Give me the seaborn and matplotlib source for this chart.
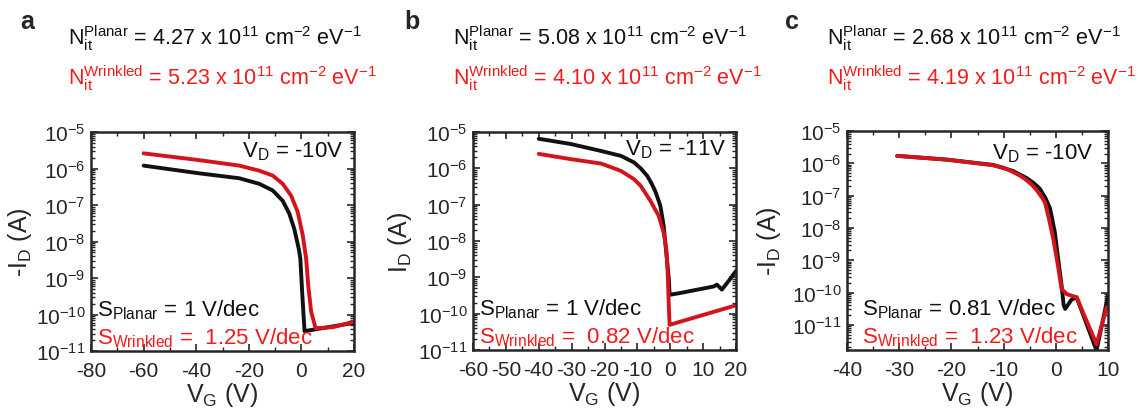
import numpy as np
import pandas as pd
import matplotlib
matplotlib.use("Agg")
import matplotlib.pyplot as plt
import matplotlib.ticker as mticker
import seaborn as sns

# panel a  (V_D = -10 V)
vg_a_planar = [-60, -39, -23.6, -16, -10.9, -7.1, -4.6, -2.7, -1, -0.4, 0.3, 0.8, 1.2, 20]
id_a_planar = [1.2e-6, 7.4e-7, 5.4e-7, 3.8e-7, 2.5e-7, 1.3e-7, 5.8e-8, 2.2e-8,
               6.3e-9, 3.4e-9, 4e-10, 1e-10, 3.5e-11, 5.9e-11]
vg_a_wrinkled = [-60, -39, -23.6, -16, -10.9, -7.1, -3.9, -1.4, 0.5, 1.8, 2.6,
                 3.7, 5.4, 12, 20]
id_a_wrinkled = [2.6e-6, 1.7e-6, 1.2e-6, 8.7e-7, 6.4e-7, 3.8e-7, 1.8e-7, 6.4e-8,
                 1.5e-8, 3.4e-9, 6.3e-10, 1.2e-10, 4.2e-11, 4.5e-11, 6.4e-11]

# panel b  (V_D = -11 V)
vg_b_planar = [-40, -30.4, -21, -15, -11, -9, -7, -5.8, -4.6, -3.8, -3, -2, -1.3,
               -0.8, -0.4, -0.2, 3, 13.2, 14.2, 15.7, 17.7, 20]
id_b_planar = [6.5e-6, 4.7e-6, 3e-6, 2.2e-6, 1.45e-6, 1e-6, 6.2e-7, 4e-7, 2.4e-7,
               1.5e-7, 9.2e-8, 2.6e-8, 5.9e-9, 2e-9, 8e-10, 3.3e-10, 3.7e-10,
               5.6e-10, 6.3e-10, 4.6e-10, 7.8e-10, 1.5e-9]
vg_b_wrinkled = [-40, -30.4, -21, -15, -11, -9, -6, -3.5, -2, -1.2, -0.8, -0.5,
                 -0.2, 3, 20]
id_b_wrinkled = [2.5e-6, 1.8e-6, 1.35e-6, 8.5e-7, 5e-7, 3.3e-7, 1.26e-7, 4.9e-8,
                 1.7e-8, 5.9e-9, 1.5e-9, 2.4e-10, 4.9e-11, 6e-11, 1.7e-10]

# panel c  (V_D = -10 V)
vg_c_planar = [-30.4, -20.9, -12, -8.2, -5.6, -4.3, -3.1, -2, -1.1, -0.2, 0.45,
               1.1, 1.5, 1.8, 3.0, 4.0, 7.8, 10]
id_c_planar = [1.7e-6, 1.3e-6, 8.9e-7, 5.8e-7, 3.5e-7, 2.5e-7, 1.66e-7, 8.5e-8,
               4e-8, 7.6e-9, 1.1e-9, 1.7e-10, 4.1e-11, 3.1e-11, 6e-11, 7e-11,
               1.6e-12, 7.9e-11]
vg_c_wrinkled = [-30.4, -20.9, -12, -10, -8.2, -6.8, -5.6, -4.5, -3.7, -2.8, -2.1,
                 -1.3, -0.5, 0.4, 1.1, 2.1, 4.0, 7.8, 9.75]
id_c_wrinkled = [1.7e-6, 1.3e-6, 8.7e-7, 7.3e-7, 5.4e-7, 4.1e-7, 3e-7, 2.1e-7,
                 1.5e-7, 9.5e-8, 6.3e-8, 1.9e-8, 4.7e-9, 7e-10, 1.3e-10, 8.9e-11,
                 7.1e-11, 2.5e-12, 3.5e-11]

panel_letters = ["a", "b", "c"]
vd_labels = ["V$_D$ = -10V", "V$_D$ = -11V", "V$_D$ = -10V"]
ylabels = ["-I$_D$ (A)", "I$_D$ (A)", "-I$_D$ (A)"]
nit_planar = ["4.27", "5.08", "2.68"]
nit_wrinkled = ["5.23", "4.10", "4.19"]
s_planar = ["1", "1", "0.81"]
s_wrinkled = ["1.25", "0.82", "1.23"]

sns.set_style("ticks")
plt.rcParams['font.family'] = ['Liberation Sans', 'DejaVu Sans']
plt.rcParams['mathtext.fontset'] = 'custom'
plt.rcParams['mathtext.rm'] = 'Liberation Sans'
plt.rcParams['mathtext.it'] = 'Liberation Sans'
plt.rcParams['mathtext.bf'] = 'Liberation Sans:bold'
plt.rcParams['axes.unicode_minus'] = False

BLACK = "#111111"
RED = "#d4141c"
RED_TXT = "#f01c1c"

W, H = 1141, 414
fig = plt.figure(figsize=(W / 100, H / 100), dpi=100)

# axes boxes in pixels: left, top, right, bottom
boxes = [(91, 133, 354, 352), (473, 133, 736, 351), (847, 132, 1108, 351)]
xlims = [(-80, 20), (-60, 20), (-40, 10)]
xmajor = [20, 10, 10]
ylims = [(1e-11, 1e-5), (1e-11, 1e-5), (1.66e-12, 1e-5)]
vd_pos = [(0.574, 0.913), (0.578, 0.922), (0.556, 0.9)]
s_x = [0.023, 0.023, 0.057]
ylab_x = [-0.215, -0.225, -0.245]
letter_x = [27, 412, 792]
header_x = [68, 453, 827]

data = [
    (vg_a_planar, id_a_planar, vg_a_wrinkled, id_a_wrinkled),
    (vg_b_planar, id_b_planar, vg_b_wrinkled, id_b_wrinkled),
    (vg_c_planar, id_c_planar, vg_c_wrinkled, id_c_wrinkled),
]

for i in range(3):
    l, t, r, b = boxes[i]
    ax = fig.add_axes([l / W, 1 - b / H, (r - l) / W, (b - t) / H])
    vgp, idp, vgw, idw = data[i]
    df = pd.concat([
        pd.DataFrame({"VG": vgp, "ID": idp, "device": "Planar"}),
        pd.DataFrame({"VG": vgw, "ID": idw, "device": "Wrinkled"}),
    ])
    sns.lineplot(data=df, x="VG", y="ID", hue="device",
                 palette={"Planar": BLACK, "Wrinkled": RED},
                 estimator=None, sort=False, lw=2.8, legend=False, ax=ax)
    for ln in ax.lines:
        ln.set_solid_joinstyle("round")
    ax.set_yscale("log")
    ax.set_xlim(*xlims[i])
    ax.set_ylim(*ylims[i])
    ax.xaxis.set_major_locator(mticker.MultipleLocator(xmajor[i]))
    ax.xaxis.set_minor_locator(mticker.MultipleLocator(xmajor[i] / 2))
    ax.yaxis.set_major_locator(mticker.LogLocator(base=10, numticks=20))
    ax.yaxis.set_minor_locator(mticker.LogLocator(base=10, subs=np.arange(2, 10), numticks=20))
    ax.yaxis.set_minor_formatter(mticker.NullFormatter())
    ax.tick_params(which="both", direction="in", top=True, right=True,
                   labelsize=15)
    ax.tick_params(axis="y", pad=4)
    ax.tick_params(axis="x", pad=7)
    ax.tick_params(which="major", length=5, width=1.2)
    ax.tick_params(which="minor", length=3, width=1)
    for sp in ax.spines.values():
        sp.set_linewidth(1.8)
    ax.set_xlabel("V$_G$ (V)", fontsize=18, labelpad=0)
    ax.set_ylabel(ylabels[i], fontsize=18)
    ax.yaxis.set_label_coords(ylab_x[i], 0.5)

    ax.text(vd_pos[i][0], vd_pos[i][1], vd_labels[i], transform=ax.transAxes,
            fontsize=16, color=BLACK, va="center")
    ax.text(s_x[i], 0.19, "S$_{Planar}$ = " + s_planar[i] + " V/dec",
            transform=ax.transAxes, fontsize=16, color=BLACK, va="center")
    ax.text(s_x[i], 0.062, "S$_{Wrinkled}$ =  " + s_wrinkled[i] + " V/dec",
            transform=ax.transAxes, fontsize=16, color=RED_TXT, va="center",
            zorder=5)

    fig.text(letter_x[i] / W, 1 - 22 / H, panel_letters[i], fontsize=18,
             fontweight="bold", ha="center", va="center")
    fig.text(header_x[i] / W, 1 - 38 / H,
             "N$_{it}^{Planar}$ = " + nit_planar[i] + " x 10$^{11}$ cm$^{-2}$ eV$^{-1}$",
             fontsize=15.5, color=BLACK, va="center")
    fig.text(header_x[i] / W, 1 - 78 / H,
             "N$_{it}^{Wrinkled}$ = " + nit_wrinkled[i] + " x 10$^{11}$ cm$^{-2}$ eV$^{-1}$",
             fontsize=15.5, color=RED_TXT, va="center")

fig.savefig("out.png", dpi=100)
